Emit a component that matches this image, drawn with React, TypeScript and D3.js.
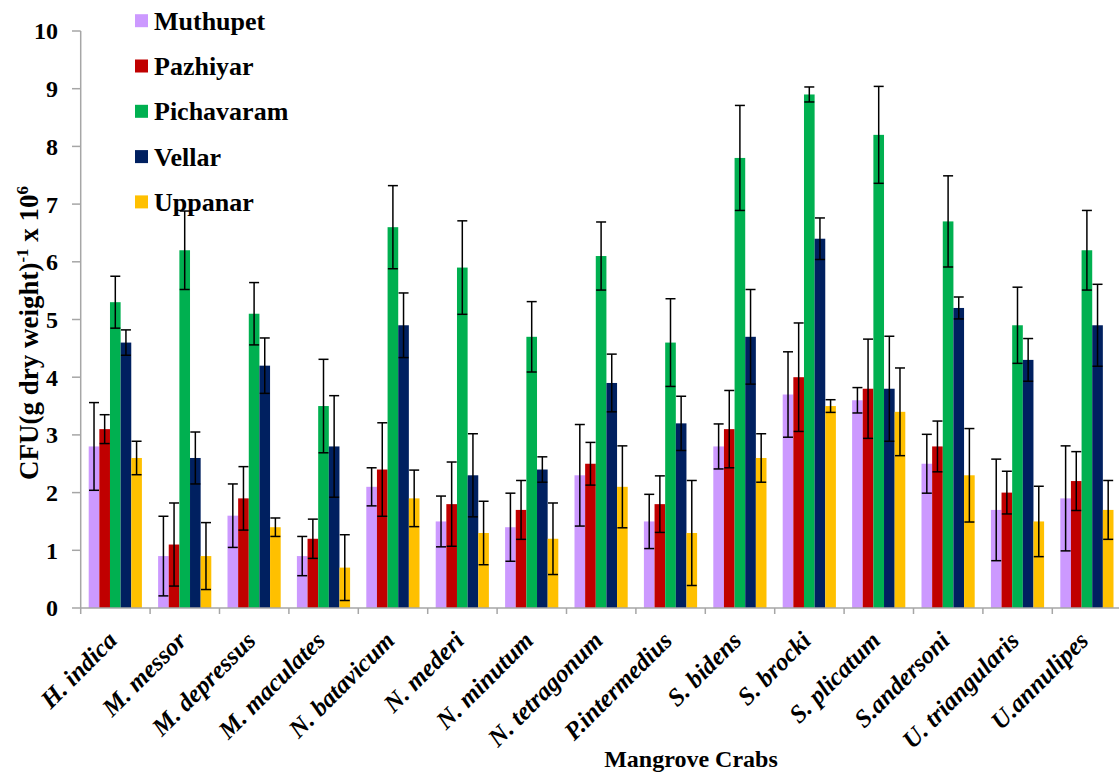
import React from "react";
import * as d3 from "d3";

const categories = ["H. indica", "M. messor", "M. depressus", "M. maculates", "N. batavicum", "N. mederi", "N. minutum", "N. tetragonum", "P.intermedius", "S. bidens", "S. brocki", "S. plicatum", "S.andersoni", "U. triangularis", "U.annulipes"];

const seriesNames = ["Muthupet", "Pazhiyar", "Pichavaram", "Vellar", "Uppanar"];
const seriesColors = ["#CC99FF", "#C00000", "#00B050", "#002060", "#FFC000"];

const muthupet = [2.8, 0.9, 1.6, 0.9, 2.1, 1.5, 1.4, 2.3, 1.5, 2.8, 3.7, 3.6, 2.5, 1.7, 1.9];
const muthupetErr = [0.76, 0.69, 0.55, 0.34, 0.33, 0.44, 0.59, 0.88, 0.47, 0.39, 0.74, 0.22, 0.51, 0.88, 0.91];
const pazhiyar = [3.1, 1.1, 1.9, 1.2, 2.4, 1.8, 1.7, 2.5, 1.8, 3.1, 4.0, 3.8, 2.8, 2.0, 2.2];
const pazhiyarErr = [0.25, 0.72, 0.55, 0.34, 0.81, 0.73, 0.51, 0.37, 0.49, 0.67, 0.94, 0.86, 0.44, 0.37, 0.51];
const pichavaram = [5.3, 6.2, 5.1, 3.5, 6.6, 5.9, 4.7, 6.1, 4.6, 7.8, 8.9, 8.2, 6.7, 4.9, 6.2];
const pichavaramErr = [0.45, 0.68, 0.54, 0.81, 0.72, 0.81, 0.61, 0.59, 0.76, 0.91, 0.13, 0.84, 0.79, 0.66, 0.69];
const vellar = [4.6, 2.6, 4.2, 2.8, 4.9, 2.3, 2.4, 3.9, 3.2, 4.7, 6.4, 3.8, 5.2, 4.3, 4.9];
const vellarErr = [0.22, 0.45, 0.48, 0.88, 0.56, 0.72, 0.22, 0.5, 0.47, 0.82, 0.36, 0.91, 0.19, 0.37, 0.71];
const uppanar = [2.6, 0.9, 1.4, 0.7, 1.9, 1.3, 1.2, 2.1, 1.3, 2.6, 3.5, 3.4, 2.3, 1.5, 1.7];
const uppanarErr = [0.29, 0.58, 0.16, 0.57, 0.49, 0.55, 0.62, 0.71, 0.91, 0.42, 0.11, 0.76, 0.81, 0.61, 0.51];

const yTicks = [0, 1, 2, 3, 4, 5, 6, 7, 8, 9, 10];

const values = [muthupet, pazhiyar, pichavaram, vellar, uppanar];
const errors = [muthupetErr, pazhiyarErr, pichavaramErr, vellarErr, uppanarErr];

const W = 1119;
const H = 776;
const FONT = '"Liberation Serif", "DejaVu Serif", serif';
const AXIS = "#A6A6A6";
const tStyle = { fontFamily: FONT, fontWeight: 700 as const };

export default function App() {
  const x = d3.scaleBand<string>().domain(categories).range([80.7, 80.7 + 69.4 * categories.length]).paddingInner(0).paddingOuter(0);
  const xs = d3.scaleBand<string>().domain(seriesNames).range([8, 61.2]).padding(0);
  const y = d3.scaleLinear().domain([0, 10]).range([608, 31]);
  const bw = xs.bandwidth();
  const cap = 10;

  return (
    <svg width={W} height={H} style={{ position: "absolute", left: 0, top: 0, background: "#fff" }}>
      <rect x={0} y={0} width={W} height={H} fill="#fff" />
      {/* bars */}
      {categories.map((c, ci) => (
        <g key={c} transform={`translate(${x(c)},0)`}>
          {seriesNames.map((s, si) => {
            const v = values[si][ci];
            return (
              <rect key={s} x={xs(s)} y={y(v)} width={bw} height={y(0) - y(v)} fill={seriesColors[si]} />
            );
          })}
        </g>
      ))}
      {/* error bars */}
      {categories.map((c, ci) => (
        <g key={c + "e"} transform={`translate(${x(c)},0)`} stroke="#000" strokeWidth={1.5}>
          {seriesNames.map((s, si) => {
            const v = values[si][ci];
            const e = errors[si][ci];
            const cx = (xs(s) as number) + bw / 2;
            const t = y(v + e);
            const b = y(v - e);
            return (
              <g key={s}>
                <line x1={cx} x2={cx} y1={t} y2={b} />
                <line x1={cx - cap / 2} x2={cx + cap / 2} y1={t} y2={t} />
                <line x1={cx - cap / 2} x2={cx + cap / 2} y1={b} y2={b} />
              </g>
            );
          })}
        </g>
      ))}
      {/* y axis */}
      <line x1={80.7} x2={80.7} y1={y(10)} y2={y(0)} stroke={AXIS} strokeWidth={1.5} />
      {yTicks.map((t) => (
        <g key={t}>
          <line x1={72} x2={80.7} y1={y(t)} y2={y(t)} stroke={AXIS} strokeWidth={1.5} />
          <text x={58} y={y(t)} dy="0.35em" textAnchor="end" style={{ ...tStyle, fontSize: 24 }} fill="#000">
            {t}
          </text>
        </g>
      ))}
      {/* x axis */}
      <line x1={80.7} x2={W} y1={y(0)} y2={y(0)} stroke={AXIS} strokeWidth={1.5} />
      {categories.map((c) => (
        <line key={c + "t"} x1={x(c)} x2={x(c)} y1={y(0)} y2={y(0) + 6} stroke={AXIS} strokeWidth={1.5} />
      ))}
      {categories.map((c) => {
        const cx = (x(c) as number) + x.bandwidth() / 2 + 3;
        return (
          <text key={c + "l"} transform={`translate(${cx},642) rotate(-45)`} textAnchor="end" style={{ ...tStyle, fontSize: 25, fontStyle: "italic" }} fill="#000">
            {c}
          </text>
        );
      })}
      {/* axis titles */}
      <text x={691} y={767} textAnchor="middle" style={{ ...tStyle, fontSize: 24 }} fill="#000">
        Mangrove Crabs
      </text>
      <text transform="translate(38,333) rotate(-90)" textAnchor="middle" style={{ ...tStyle, fontSize: 27 }} fill="#000">
        CFU(g dry weight)
        <tspan fontSize={17} dy={-10}>-1</tspan>
        <tspan dy={10}> x 10</tspan>
        <tspan fontSize={17} dy={-10}>6</tspan>
      </text>
      {/* legend */}
      {seriesNames.map((s, si) => {
        const cy = 20.7 + si * 45.3;
        return (
          <g key={s + "lg"}>
            <rect x={135} y={cy - 6.5} width={13} height={13} fill={seriesColors[si]} />
            <text x={154} y={cy} dy="0.35em" style={{ ...tStyle, fontSize: 26 }} fill="#000">
              {s}
            </text>
          </g>
        );
      })}
    </svg>
  );
}
